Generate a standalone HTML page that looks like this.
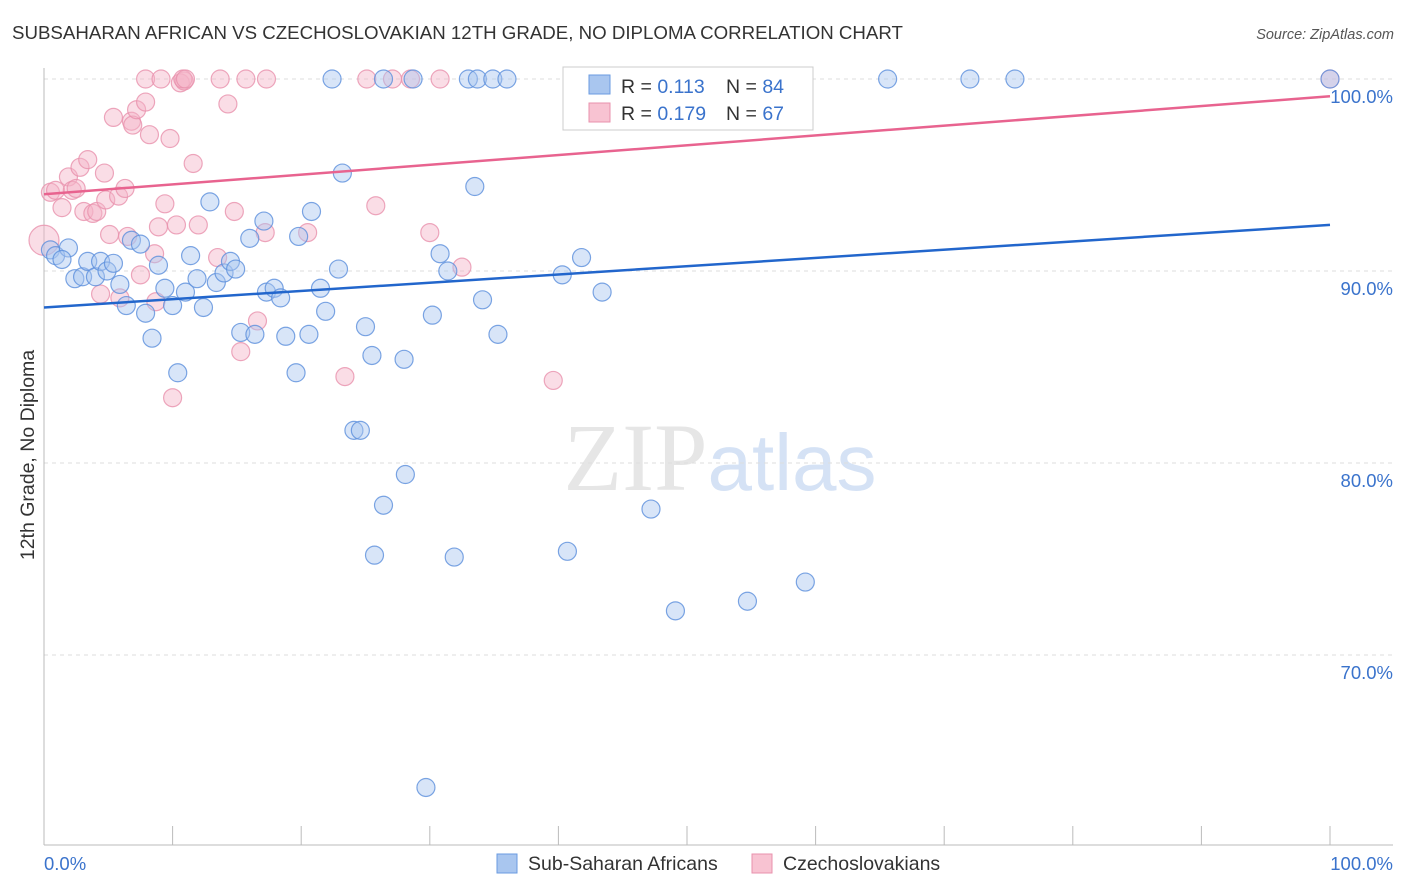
<!DOCTYPE html>
<html><head><meta charset="utf-8"><style>
body{margin:0;background:#fff;font-family:"Liberation Sans",sans-serif}
svg{display:block}
</style></head><body>
<svg id="chart" width="1406" height="892" xmlns="http://www.w3.org/2000/svg">
<text x="12" y="39" font-size="18.7" fill="#333">SUBSAHARAN AFRICAN VS CZECHOSLOVAKIAN 12TH GRADE, NO DIPLOMA CORRELATION CHART</text>
<text x="1394" y="39" font-size="14.5" fill="#555" font-style="italic" text-anchor="end">Source: ZipAtlas.com</text>
<text x="720" y="490" font-size="96" text-anchor="middle" fill="#e6e6e6" font-family="Liberation Serif">ZIP<tspan fill="#d5e2f5" font-family="Liberation Sans" font-size="80">atlas</tspan></text>
<text transform="translate(34,455) rotate(-90)" font-size="19.5" fill="#333" text-anchor="middle">12th Grade, No Diploma</text>
<g id="grid"></g><g id="axes"></g><g id="pts"></g><g id="lines"></g>
<g>
<rect x="563" y="67" width="250" height="63" fill="#fff" stroke="#ccc"/>
<rect x="589" y="75" width="21" height="19" fill="#a9c6ef" stroke="#6a9be0"/>
<rect x="589" y="103" width="21" height="19" fill="#f8c3d2" stroke="#e891ac"/>
<text x="621" y="93" font-size="19.5" fill="#333">R = <tspan fill="#3a73cc">0.113</tspan></text>
<text x="726" y="93" font-size="19.5" fill="#333">N = <tspan fill="#3a73cc">84</tspan></text>
<text x="621" y="120" font-size="19.5" fill="#333">R = <tspan fill="#3a73cc">0.179</tspan></text>
<text x="726" y="120" font-size="19.5" fill="#333">N = <tspan fill="#3a73cc">67</tspan></text>
</g>
<g>
<rect x="497" y="854" width="20" height="19" fill="#a9c6ef" stroke="#6a9be0"/>
<text x="528" y="870" font-size="19.5" fill="#333">Sub-Saharan Africans</text>
<rect x="752" y="854" width="20" height="19" fill="#f8c3d2" stroke="#e891ac"/>
<text x="783" y="870" font-size="19.5" fill="#333">Czechoslovakians</text>
</g>
</svg>
<script>
const blueX=[0.5,0.9,1.9,1.4,2.4,3.0,3.4,4.0,4.4,4.9,5.4,5.9,6.4,6.8,7.5,7.9,8.4,8.9,9.4,10.0,10.4,11.0,11.4,11.9,12.4,12.9,13.4,14.0,14.5,14.9,15.3,16.0,16.4,17.1,17.3,17.9,18.4,18.8,19.6,19.8,20.6,20.8,21.5,21.9,22.9,23.2,24.1,24.6,25.0,25.5,25.7,26.4,28.0,28.1,29.7,30.2,30.8,31.4,31.9,33.5,34.1,35.3,40.3,40.7,41.8,43.4,47.2,49.1,54.7,59.2,22.4,26.4,28.7,33.0,33.7,34.9,36.0,42.5,46.2,52.4,65.6,72.0,75.5,100,55.7];
const blueY=[91.1,90.8,91.2,90.6,89.6,89.7,90.5,89.7,90.5,90.0,90.4,89.3,88.2,91.6,91.4,87.8,86.5,90.3,89.1,88.2,84.7,88.9,90.8,89.6,88.1,93.6,89.4,89.9,90.5,90.1,86.8,91.7,86.7,92.6,88.9,89.1,88.6,86.6,84.7,91.8,86.7,93.1,89.1,87.9,90.1,95.1,81.7,81.7,87.1,85.6,75.2,77.8,85.4,79.4,63.1,87.7,90.9,90.0,75.1,94.4,88.5,86.7,89.8,75.4,90.7,88.9,77.6,72.3,72.8,73.8,100,100,100,100,100,100,100,100,100,100,100,100,100,100,99.1];
const pinkX=[0,0.5,0.9,1.4,1.9,2.2,2.5,2.8,3.1,3.4,3.8,4.1,4.4,4.7,4.8,5.1,5.4,5.8,5.9,6.3,6.5,6.8,6.9,7.2,7.5,7.9,8.2,8.6,8.7,8.9,9.4,9.8,10.0,10.3,10.6,10.9,11.6,12.0,13.5,14.3,14.8,15.3,16.6,17.2,20.5,23.4,25.8,30.0,32.5,39.6,7.9,9.1,10.8,11.0,13.7,15.7,17.3,25.1,27.1,28.5,30.8,100];
const pinkY=[91.6,94.1,94.2,93.3,94.9,94.2,94.3,95.4,93.1,95.8,93.0,93.1,88.8,95.1,93.7,91.9,98.0,93.9,88.6,94.3,91.8,97.8,97.6,98.4,89.8,98.8,97.1,90.9,88.4,92.3,93.5,96.9,83.4,92.4,99.8,99.9,95.6,92.4,90.7,98.7,93.1,85.8,87.4,92.0,92.0,84.5,93.4,92.0,90.2,84.3,100,100,100,100,100,100,100,100,100,100,100,100];
const blueTrend=[88.1,92.4];
const pinkTrend=[94.0,99.1];
const yTicks=[100,90,80,70];
const xTickLabels=["0.0%","100.0%"];
const NS="http://www.w3.org/2000/svg";
const X=v=>44+v*12.86, Y=v=>79+(100-v)*19.2;
function mk(t,a,p){const e=document.createElementNS(NS,t);for(const k in a)e.setAttribute(k,a[k]);p.appendChild(e);return e;}
const grid=document.getElementById('grid'),axes=document.getElementById('axes'),pts=document.getElementById('pts'),lines=document.getElementById('lines');
yTicks.forEach(v=>{
 const l=mk('line',{x1:44,x2:1393,y1:Y(v),y2:Y(v),stroke:'#ddd','stroke-dasharray':'4,4'},grid);
 
 
 const t=mk('text',{x:1393,y:Y(v)+24,'font-size':18.5,fill:'#3a73cc','text-anchor':'end'},axes);
 t.textContent=v.toFixed(1)+'%';
 
 
});
const ax=mk('line',{x1:44,x2:44,y1:68,y2:845,stroke:'#bbb'},axes);


const bx=mk('line',{x1:44,x2:1393,y1:845,y2:845,stroke:'#bbb'},axes);


for(let i=0;i<=10;i++){const t=mk('line',{x1:X(i*10),x2:X(i*10),y1:826,y2:845,stroke:'#bbb'},axes);
 
 }
[[0,'start',44],[100,'end',1393]].forEach((d,i)=>{const t=mk('text',{x:d[2],y:870,'font-size':18.5,fill:'#3a73cc','text-anchor':d[1]},axes);t.textContent=xTickLabels[i];
 
 });
function dots(xs,ys,fill,stroke,name){xs.forEach((x,i)=>{const big=(x===0);const c=mk('circle',{cx:X(x),cy:Y(ys[i]),r:big?15:9,fill:fill,'fill-opacity':0.45,stroke:stroke,'stroke-opacity':0.8,'stroke-width':1.2},pts);
 
 });}
dots(pinkX,pinkY,'#f5b3c7','#e891ac','pink-point');
dots(blueX,blueY,'#a9c6ef','#5b8fdc','blue-point');
const bl=mk('line',{x1:X(0),y1:Y(blueTrend[0]),x2:X(100),y2:Y(blueTrend[1]),stroke:'#2266cc','stroke-width':2.5},lines);


const pl=mk('line',{x1:X(0),y1:Y(pinkTrend[0]),x2:X(100),y2:Y(pinkTrend[1]),stroke:'#e8638f','stroke-width':2.5},lines);


</script>
</body></html>
